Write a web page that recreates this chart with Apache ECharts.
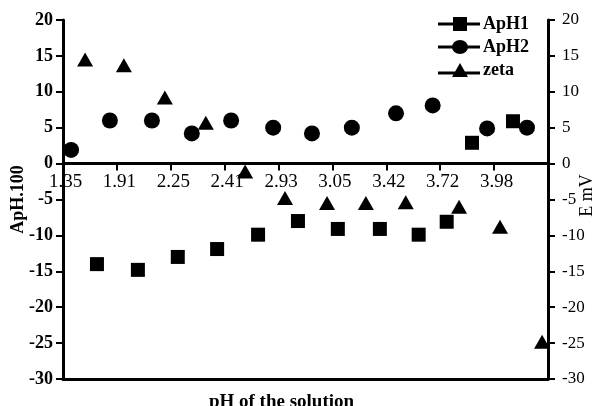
<!DOCTYPE html>
<html><head><meta charset="utf-8">
<script src="https://cdn.jsdelivr.net/npm/echarts@6/dist/echarts.min.js"></script>
<style>html,body{margin:0;padding:0;background:#fff}#c{width:596px;height:406px}</style>
</head><body><div id="c"></div>
<script>
var xTickLabels = ['1.35','1.91','2.25','2.41','2.93','3.05','3.42','3.72','3.98',''];
var yTicks = { min: -30, max: 20, step: 5 };
// x positions in tick-index units along the pH axis
var aph1X = [0.63,1.39,2.13,2.86,3.62,4.36,5.10,5.88,6.60,7.12,7.59,8.35];
var aph1Y = [-14,-14.8,-13,-11.9,-9.9,-8,-9.1,-9.1,-9.9,-8.1,2.9,5.9];
var aph2X = [0.15,0.87,1.65,2.39,3.12,3.90,4.62,5.36,6.18,6.86,7.87,8.61];
var aph2Y = [1.9,6.0,6.0,4.2,6.0,5.0,4.2,5.0,7.0,8.1,4.9,5.0];
var zetaX = [0.41,1.13,1.89,2.65,3.38,4.12,4.90,5.62,6.36,7.35,8.11,8.89];
var zetaY = [14.5,13.7,9.2,5.7,-1.1,-4.8,-5.5,-5.5,-5.4,-6.0,-8.8,-24.8];

function pairs(xs, ys){ return xs.map(function(x,i){ return [x, ys[i]]; }); }

var W = 596, H = 406;
var G = { left: 63, right: 48, top: 20, bottom: 27 };
var gridH = H - G.top - G.bottom;
// offset that puts the labelled x axis on the y = 0 line
var zeroOffset = -gridH * (0 - yTicks.min) / (yTicks.max - yTicks.min);

var serif = 'Liberation Serif';
var chart = echarts.init(document.getElementById('c'));
chart.setOption({
  animation: false,
  grid: { left: G.left, right: G.right, top: G.top, bottom: G.bottom, containLabel: false, outerBoundsMode: 'none' },
  legend: {
    left: 433, top: 10, orient: 'vertical', itemWidth: 42, itemHeight: 14, itemGap: 5,
    textStyle: { fontFamily: serif, fontWeight: 'bold', fontSize: 18, color: '#000', padding: [0,0,0,-2] },
    data: [
      { name: 'ApH1', icon: 'path://M0,5.5H42V8.5H0Z M15,0H29V14H15Z' },
      { name: 'ApH2', icon: 'path://M0,5.5H42V8.5H0Z M14,7A8,7 0 1 1 30,7A8,7 0 1 1 14,7Z' },
      { name: 'zeta', icon: 'path://M0,8.5H42V11.5H0Z M22,0L30,14H14Z' }
    ]
  },
  xAxis: [{
    type: 'value', min: 0, max: 9, interval: 1, position: 'bottom', offset: zeroOffset,
    axisLine: { onZero: false, show: true, lineStyle: { color: '#000', width: 3 } },
    axisTick: { show: true, length: 7, lineStyle: { color: '#000', width: 2 } },
    axisLabel: { margin: 9, fontFamily: serif, fontSize: 19, color: '#000', padding: [0,0,0,5],
      formatter: function(v){ return xTickLabels[Math.round(v)] || ''; } },
    splitLine: { show: false }
  }, {
    type: 'value', min: 0, max: 9, position: 'bottom', offset: 0,
    axisLine: { onZero: false, show: true, lineStyle: { color: '#000', width: 3 } },
    axisTick: { show: false }, axisLabel: { show: false }, splitLine: { show: false },
    name: 'pH of the solution', nameLocation: 'middle', nameGap: 14, nameMoveOverlap: false,
    nameTextStyle: { fontFamily: serif, fontWeight: 'bold', fontSize: 19, color: '#000', padding: [0,48,0,0] }
  }],
  yAxis: [{
    type: 'value', min: yTicks.min, max: yTicks.max, interval: yTicks.step,
    axisLine: { show: true, onZero: false, lineStyle: { color: '#000', width: 3 } },
    axisTick: { show: true, length: 7, lineStyle: { color: '#000', width: 2 } },
    axisLabel: { margin: 10, fontFamily: serif, fontWeight: 'bold', fontSize: 18, color: '#000' },
    splitLine: { show: false },
    name: 'ApH.100', nameLocation: 'middle', nameRotate: 90, nameGap: 36, nameMoveOverlap: false,
    nameTextStyle: { fontFamily: serif, fontWeight: 'bold', fontSize: 18, color: '#000' }
  }, {
    type: 'value', min: yTicks.min, max: yTicks.max, interval: yTicks.step, position: 'right',
    axisLine: { show: true, onZero: false, lineStyle: { color: '#000', width: 3 } },
    axisTick: { show: true, length: 7, lineStyle: { color: '#000', width: 2 } },
    axisLabel: { margin: 14, fontFamily: serif, fontSize: 17, color: '#000' },
    splitLine: { show: false },
    name: 'E mV', nameLocation: 'middle', nameRotate: 90, nameGap: 30, nameMoveOverlap: false,
    nameTextStyle: { fontFamily: serif, fontSize: 18, color: '#000', padding: [0,0,0,8] }
  }],
  series: [
    { name: 'ApH1', type: 'scatter', xAxisIndex: 0, yAxisIndex: 0, symbol: 'rect', symbolSize: 14,
      itemStyle: { color: '#000', opacity: 1 }, data: pairs(aph1X, aph1Y) },
    { name: 'ApH2', type: 'scatter', xAxisIndex: 0, yAxisIndex: 0, symbol: 'circle', symbolSize: 16,
      itemStyle: { color: '#000', opacity: 1 }, data: pairs(aph2X, aph2Y) },
    { name: 'zeta', type: 'scatter', xAxisIndex: 0, yAxisIndex: 1, symbol: 'triangle', symbolSize: [16, 14],
      itemStyle: { color: '#000', opacity: 1 }, data: pairs(zetaX, zetaY) }
  ]
});
</script></body></html>
